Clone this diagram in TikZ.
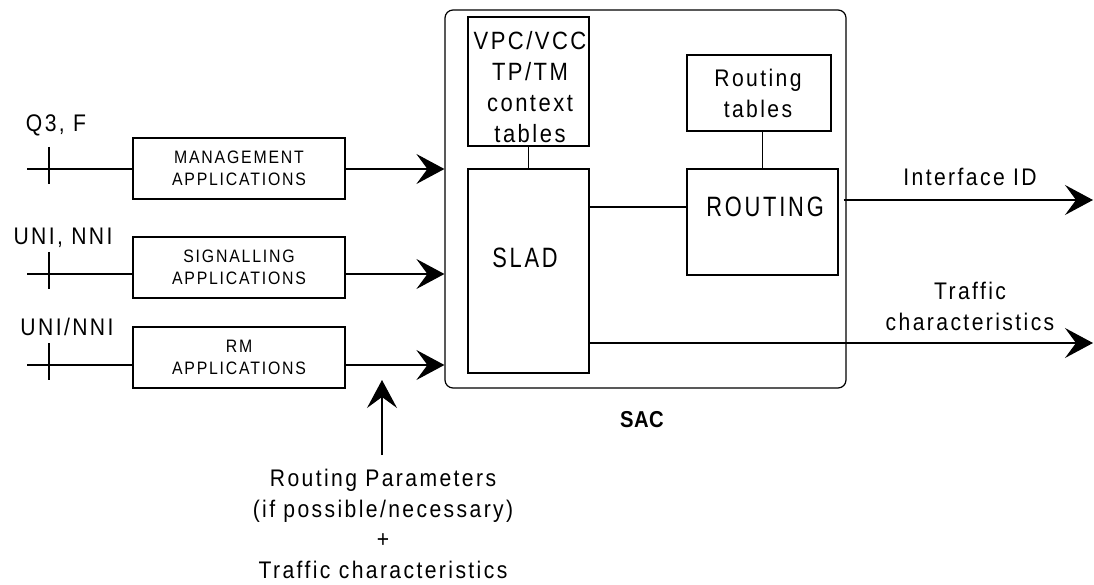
\documentclass[tikz,border=0pt]{standalone}
\usepackage{fontspec}
\setmainfont{Liberation Sans}[FakeStretch=0.88,LetterSpace=10]
\newfontfamily\narrowfam{Liberation Sans}[FakeStretch=0.78,LetterSpace=10]
\newfontfamily\tightfam{Liberation Sans}[FakeStretch=0.88,LetterSpace=2]
\usetikzlibrary{arrows.meta}
\newcommand\fsBig{\fontsize{24}{31}\selectfont}
\newcommand\fsMid{\fontsize{25}{31}\selectfont}
\newcommand\fsHuge{\narrowfam\fontsize{28}{32}\selectfont}
\newcommand\fsSmall{\fontsize{18}{21.5}\selectfont}
\begin{document}
\begin{tikzpicture}[x=1pt,y=-1pt,
  lw/.style={line width=1.2pt},
  box/.style={draw,lw,inner sep=0pt},
  txt/.style={inner sep=0pt,anchor=base,align=center},
  arr/.style={lw,-{Stealth[length=28pt,width=30pt,inset=11pt]}},
  plain/.style={lw}]
\useasboundingbox (0,0) rectangle (1094,585);

% SAC container
\node[box,rounded corners=8pt,minimum width=401,minimum height=378] (sac) at (645.5,199) {};
\node[txt,font=\tightfam\fontsize{23}{26}\selectfont\bfseries] (saclbl) at (642,427) {SAC};

% inner boxes
\node[box,minimum width=121,minimum height=129] (vpc) at (528.5,81.5) {};
\node[txt,font=\fsMid] (vpct) at (530,143) {VPC/VCC\\TP/TM\\context\\tables};
\node[box,minimum width=121,minimum height=204] (slad) at (528.5,271) {};
\node[txt,font=\fsHuge] (sladt) at (525,268) {SLAD};
\node[box,minimum width=144,minimum height=76] (rt) at (759,93) {};
\node[txt,font=\fsBig] (rtt) at (758,118) {Routing\\tables};
\node[box,minimum width=151,minimum height=106] (routing) at (762.5,222) {};
\node[txt,font=\fsHuge] (routingt) at (765,217) {ROUTING};

\draw[plain] (vpc.south) -- (slad.north);
\draw[plain] (routing.north) -- (routing.north |- rt.south);
\coordinate (sr) at (600,207);
\draw[plain] (slad.east |- sr) -- (routing.west |- sr);

% outputs
\coordinate (ifc) at (1093,200);
\draw[arr] ([xshift=5pt]routing.east |- ifc) -- (ifc);
\node[txt,font=\fsBig] (ifct) at (970,186) {Interface ID};
\coordinate (tco) at (1093,343);
\draw[arr] (slad.east |- tco) -- (tco);
\node[txt,font=\fsBig] (tcot) at (970,330) {Traffic\\characteristics};

% applications
\node[box,minimum width=212,minimum height=61,align=center,font=\fsSmall] (mgmt) at (239,168.5) {MANAGEMENT\\APPLICATIONS};
\node[box,minimum width=212,minimum height=61,align=center,font=\fsSmall] (sig) at (239,267.5) {SIGNALLING\\APPLICATIONS};
\node[box,minimum width=212,minimum height=61,align=center,font=\fsSmall] (rm) at (239,357.5) {RM\\APPLICATIONS};

\coordinate (i1) at (27,169);
\coordinate (i2) at (27,274);
\coordinate (i3) at (27,365);
\draw[plain] (i1) -- (i1 -| mgmt.west);
\draw[plain] (i2) -- (i2 -| sig.west);
\draw[plain] (i3) -- (i3 -| rm.west);
\draw[plain] (49,147) -- (49,184);
\draw[plain] (49,252) -- (49,289);
\draw[plain] (49,343) -- (49,380);
\draw[arr] (i1 -| mgmt.east) -- (i1 -| sac.west);
\draw[arr] (i2 -| sig.east) -- (i2 -| sac.west);
\draw[arr] (i3 -| rm.east) -- (i3 -| sac.west);

\node[txt,font=\fsBig] (q3) at (56,132) {Q3, F};
\node[txt,font=\fsBig] (uninni) at (63,245) {UNI, NNI};
\node[txt,font=\fsBig] (uninni2) at (67,335) {UNI/NNI};

% routing parameters
\coordinate (rpb) at (382,455);
\coordinate (rpt) at (382,380);
\draw[arr] (rpb) -- (rpt);
\node[txt,font=\fsBig,execute at begin node={\setlength{\baselineskip}{30.5pt}}] (rpt2) at (383,578) {Routing Parameters\\(if possible/necessary)\\+\\Traffic characteristics};
\end{tikzpicture}
\end{document}
